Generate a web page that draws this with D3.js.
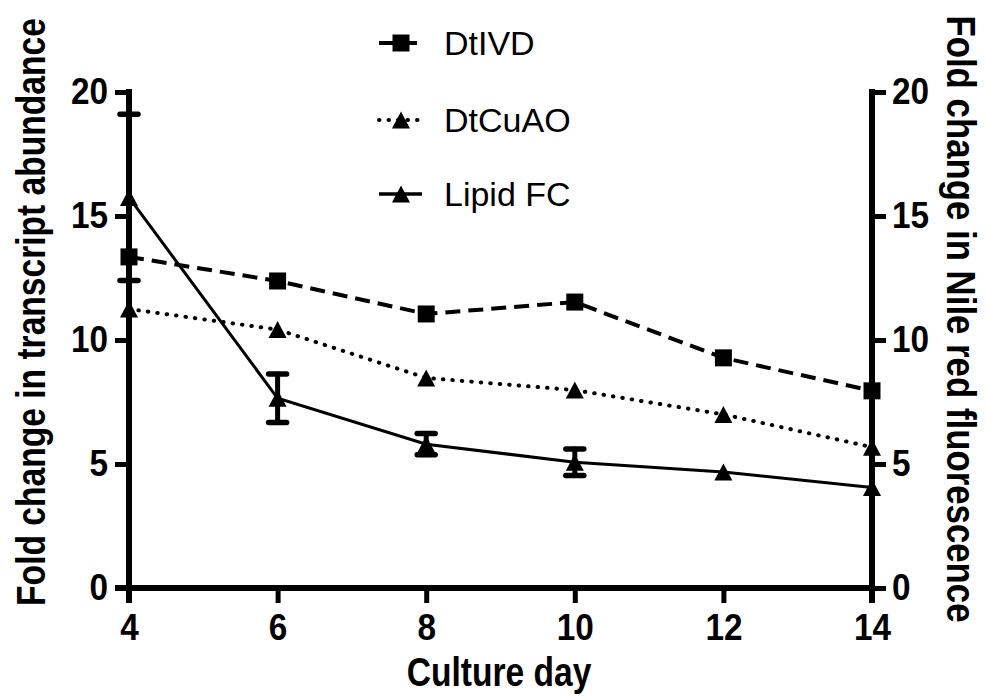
<!DOCTYPE html>
<html>
<head>
<meta charset="utf-8">
<script src="https://cdn.jsdelivr.net/npm/d3@7"></script>
<style>
  html, body { margin: 0; padding: 0; background: #fff; }
  svg { display: block; }
  svg text { font-family: "Liberation Sans", Arial, sans-serif; fill: #000; }
</style>
</head>
<body>
<svg id="chart" width="987" height="698"></svg>
<script>
// Culture days sampled
const days = [4, 6, 8, 10, 12, 14];
// Fold change in transcript abundance (left axis)
const dtIVD = [13.35, 12.38, 11.05, 11.53, 9.28, 7.95];
const dtCuAO = [11.25, 10.42, 8.47, 7.98, 7.0, 5.68];
// Fold change in Nile red fluorescence (right axis) with error
const lipidFC = [15.75, 7.65, 5.8, 5.07, 4.68, 4.05];
const lipidErr = [3.35, 0.98, 0.43, 0.53, 0, 0];
const xTicks = [4, 6, 8, 10, 12, 14];
const yTicks = [0, 5, 10, 15, 20];

const svg = d3.select("#chart");
const x = d3.scaleLinear().domain([4, 14]).range([129, 872]);
const yL = d3.scaleLinear().domain([0, 20]).range([588, 92]);
const yR = d3.scaleLinear().domain([0, 20]).range([588, 92]);

// bold tick labels use a narrow setting of the sans face
function narrow(sel, k) {
  sel.each(function () {
    const len = this.getComputedTextLength();
    d3.select(this).attr("textLength", len * k).attr("lengthAdjust", "spacingAndGlyphs");
  });
}

// filled triangle marker, centred on its bounding box
const triSym = {
  draw(ctx, size) {
    const w = Math.sqrt(size) * 1.06, h = Math.sqrt(size);
    ctx.moveTo(0, -h / 2);
    ctx.lineTo(w / 2, h / 2);
    ctx.lineTo(-w / 2, h / 2);
    ctx.closePath();
  }
};
const sq = d3.symbol().type(d3.symbolSquare).size(289);
const tri = d3.symbol().type(triSym).size(289);

const g = svg.append("g");

// series lines
const lineL = d3.line().x((d, i) => x(days[i])).y(d => yL(d));
const lineR = d3.line().x((d, i) => x(days[i])).y(d => yR(d));

const ivdDash = "15,8";
const cuaoDash = "0.5,9";

g.append("path").datum(dtIVD).attr("d", lineL)
  .attr("fill", "none").attr("stroke", "#000").attr("stroke-width", 4)
  .attr("stroke-dasharray", ivdDash);
g.append("path").datum(dtCuAO).attr("d", lineL)
  .attr("fill", "none").attr("stroke", "#000").attr("stroke-width", 4)
  .attr("stroke-linecap", "round").attr("stroke-dasharray", cuaoDash);
g.append("path").datum(lipidFC).attr("d", lineR)
  .attr("fill", "none").attr("stroke", "#000").attr("stroke-width", 3);

// error bars for Lipid FC
const eb = g.append("g").attr("stroke", "#000").attr("stroke-linecap", "round");
lipidFC.forEach((v, i) => {
  if (!lipidErr[i]) return;
  const cx = x(days[i]);
  const top = yR(v + lipidErr[i]), bot = yR(v - lipidErr[i]);
  eb.append("line").attr("x1", cx).attr("x2", cx).attr("y1", top).attr("y2", bot).attr("stroke-width", 5);
  [top, bot].forEach(yy => eb.append("line").attr("x1", cx - 9).attr("x2", cx + 9)
    .attr("y1", yy).attr("y2", yy).attr("stroke-width", 5.5));
});

// markers
g.selectAll(".sq").data(dtIVD).join("path")
  .attr("transform", (d, i) => `translate(${x(days[i])},${yL(d)})`).attr("d", sq).attr("fill", "#000");
g.selectAll(".tc").data(dtCuAO).join("path")
  .attr("transform", (d, i) => `translate(${x(days[i])},${yL(d)})`).attr("d", tri).attr("fill", "#000");
g.selectAll(".tl").data(lipidFC).join("path")
  .attr("transform", (d, i) => `translate(${x(days[i])},${yR(d)})`).attr("d", tri).attr("fill", "#000");

// axes
function styleAxis(sel) {
  sel.attr("font-family", null).attr("font-size", null);
  sel.select(".domain").attr("stroke-width", 6).attr("stroke", "#000");
  sel.selectAll(".tick line").attr("stroke-width", 5).attr("stroke", "#000");
  sel.selectAll(".tick text").attr("font-size", 37).attr("font-weight", "bold").attr("fill", "#000")
    .call(narrow, 0.9);
}
const axX = svg.append("g").attr("transform", "translate(0,588)")
  .call(d3.axisBottom(x).tickValues(xTicks).tickSizeOuter(0).tickSize(15).tickPadding(11));
styleAxis(axX);
axX.select(".domain").attr("d", `M${x(4) - 14},0H${x(14) + 3}`);

const axL = svg.append("g").attr("transform", "translate(129,0)")
  .call(d3.axisLeft(yL).tickValues(yTicks).tickSizeOuter(0).tickSize(14).tickPadding(7));
styleAxis(axL);
axL.select(".domain").attr("d", `M0,${yL(20) - 3}V${yL(0) + 15}`);

const axR = svg.append("g").attr("transform", "translate(872,0)")
  .call(d3.axisRight(yR).tickValues(yTicks).tickSizeOuter(0).tickSize(14).tickPadding(6));
styleAxis(axR);
axR.select(".domain").attr("d", `M0,${yR(20) - 3}V${yR(0) + 15}`);

// axis titles, narrowed along the reading direction
svg.append("text").attr("transform", "translate(499,686) scale(0.84,1)").attr("text-anchor", "middle")
  .attr("font-size", 40).attr("font-weight", "bold").text("Culture day");
svg.append("text").attr("transform", "translate(45,312) rotate(-90) scale(0.84,1)").attr("text-anchor", "middle")
  .attr("font-size", 40).attr("font-weight", "bold").text("Fold change in transcript abundance");
svg.append("text").attr("transform", "translate(947,319) rotate(90) scale(0.87,1)").attr("text-anchor", "middle")
  .attr("font-size", 40).attr("font-weight", "bold").text("Fold change in Nile red fluorescence");

// legend
const legendItems = [
  { name: "DtIVD", dash: ivdDash, cap: "butt", sym: sq, y: 43 },
  { name: "DtCuAO", dash: cuaoDash, cap: "round", sym: tri, y: 120 },
  { name: "Lipid FC", dash: null, cap: "butt", sym: tri, y: 194 }
];
const lg = svg.append("g");
legendItems.forEach(it => {
  lg.append("line").attr("x1", 379).attr("x2", 422).attr("y1", it.y).attr("y2", it.y)
    .attr("stroke", "#000").attr("stroke-width", it.dash ? 4 : 3.5)
    .attr("stroke-dasharray", it.dash).attr("stroke-linecap", it.cap);
  lg.append("path").attr("transform", `translate(401,${it.y})`).attr("d", it.sym).attr("fill", "#000");
  lg.append("text").attr("x", 444).attr("y", it.y + 12).attr("font-size", 34).text(it.name);
});
</script>
</body>
</html>
